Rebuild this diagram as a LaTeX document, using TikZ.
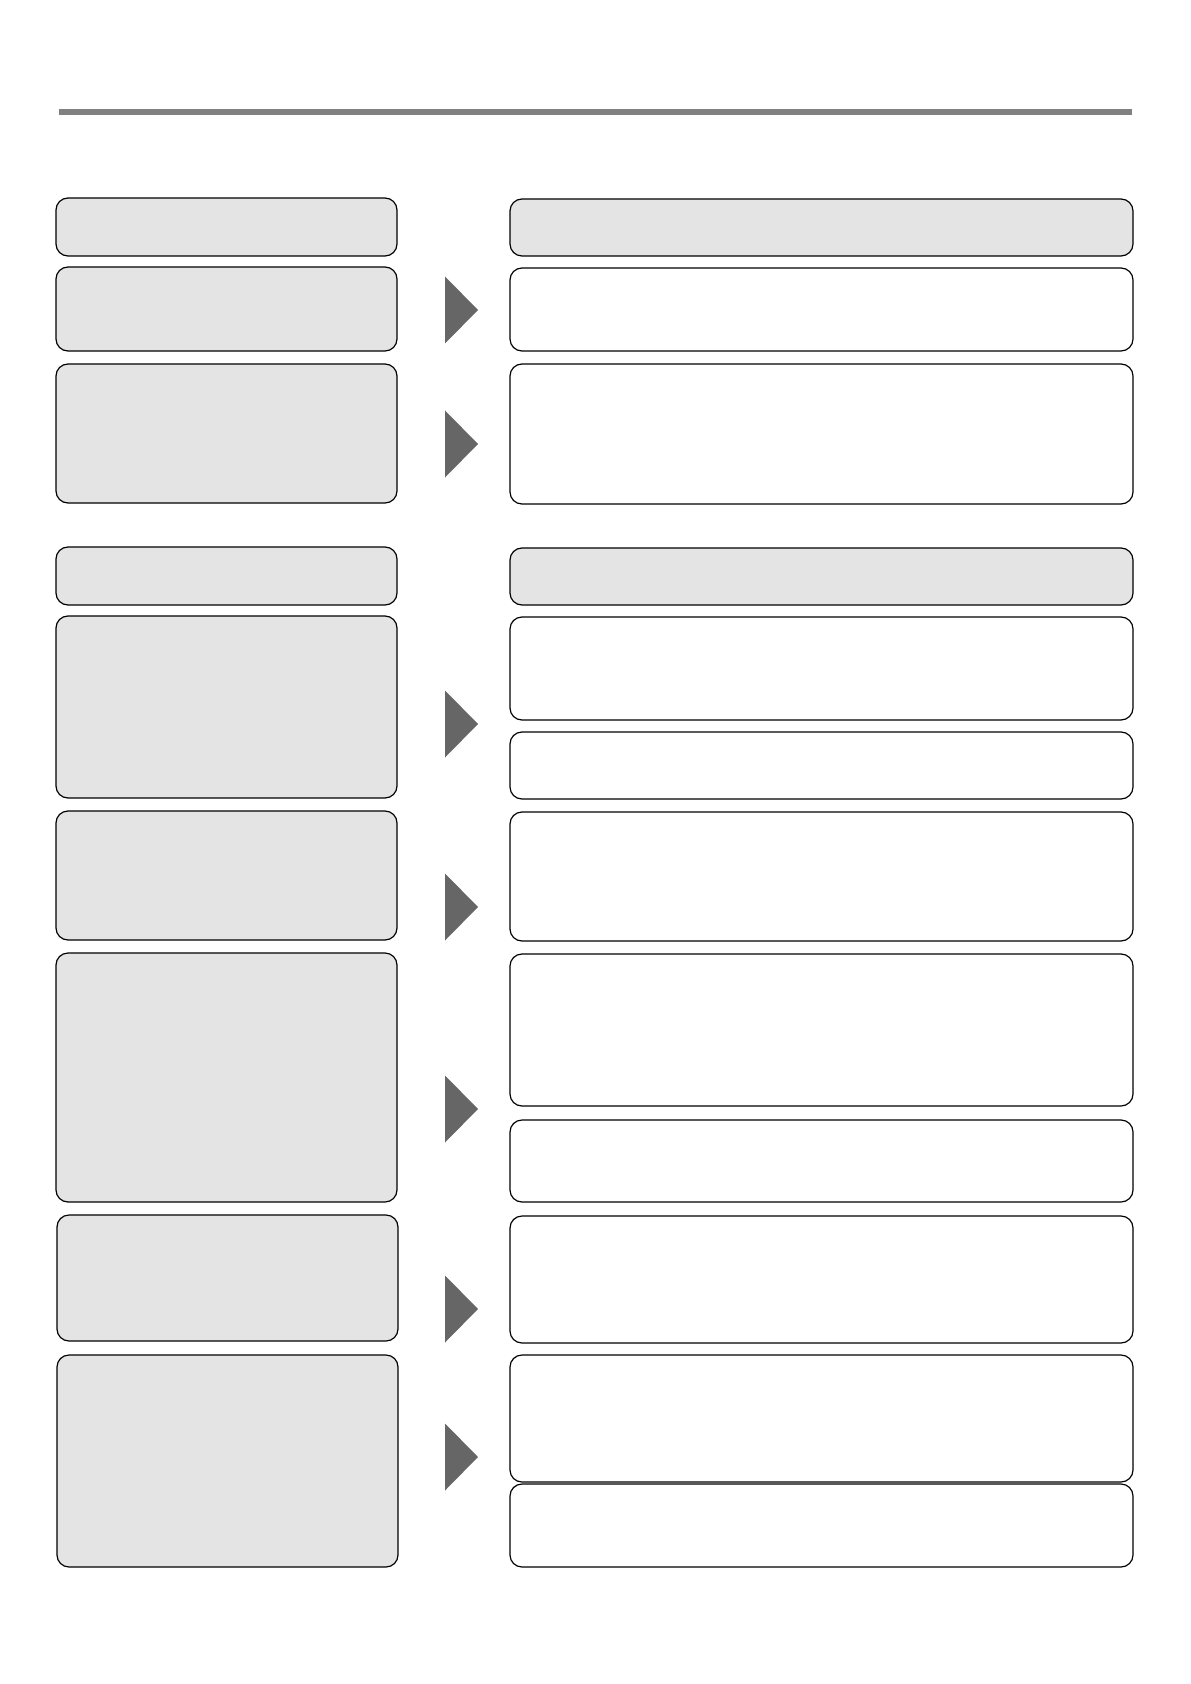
\documentclass[tikz,border=0pt]{standalone}
\usetikzlibrary{fit}
\definecolor{boxgray}{HTML}{E4E4E4}
\definecolor{arrgray}{HTML}{666666}
\definecolor{rulegray}{HTML}{808080}
\tikzset{
  graybox/.style={draw=black, fill=boxgray, line width=0.6pt, rounded corners=6pt, inner sep=0pt, outer sep=0pt},
  whitebox/.style={draw=black, fill=white, line width=0.6pt, rounded corners=6pt, inner sep=0pt, outer sep=0pt},
  arrowtri/.style={fill=arrgray, draw=none},
  toprule/.style={draw=rulegray, line width=3pt}
}
\newcommand\mybox[6]{\node[#1, fit={(#3,#4)(#5,#6)}] (#2) {};}
\newcommand\myarrow[1]{\fill[arrowtri] (445,#1-33.5) -- (478,#1) -- (445,#1+33.5) -- cycle;}
\begin{document}
\begin{tikzpicture}[x=0.5pt,y=-0.5pt]
\useasboundingbox (0,0) rectangle (1190,1684);
\coordinate (rl) at (59,112);
\coordinate (rr) at (1132,112);
\draw[toprule] (rl) -- (rr);
% section 1
\mybox{graybox}{lh1}{56}{198}{397}{256}
\mybox{graybox}{rh1}{510}{199}{1133}{256}
\mybox{graybox}{l1}{56}{267}{397}{351}
\mybox{whitebox}{r1}{510}{268}{1133}{351}
\myarrow{310}
\mybox{graybox}{l2}{56}{364}{397}{503}
\mybox{whitebox}{r2}{510}{364}{1133}{504}
\myarrow{444}
% section 2
\mybox{graybox}{lh2}{56}{547}{397}{605}
\mybox{graybox}{rh2}{510}{548}{1133}{605}
\mybox{graybox}{l3}{56}{616}{397}{798}
\mybox{whitebox}{r3a}{510}{617}{1133}{720}
\mybox{whitebox}{r3b}{510}{732}{1133}{799}
\myarrow{724}
\mybox{graybox}{l4}{56}{811}{397}{940}
\mybox{whitebox}{r4}{510}{812}{1133}{941}
\myarrow{907}
\mybox{graybox}{l5}{56}{953}{397}{1202}
\mybox{whitebox}{r5a}{510}{954}{1133}{1106}
\mybox{whitebox}{r5b}{510}{1120}{1133}{1202}
\myarrow{1109}
\mybox{graybox}{l6}{57}{1215}{398}{1341}
\mybox{whitebox}{r6}{510}{1216}{1133}{1343}
\myarrow{1309}
\mybox{graybox}{l7}{57}{1355}{398}{1567}
\mybox{whitebox}{r7a}{510}{1355}{1133}{1482}
\mybox{whitebox}{r7b}{510}{1484}{1133}{1567}
\myarrow{1457}
\end{tikzpicture}
\end{document}
